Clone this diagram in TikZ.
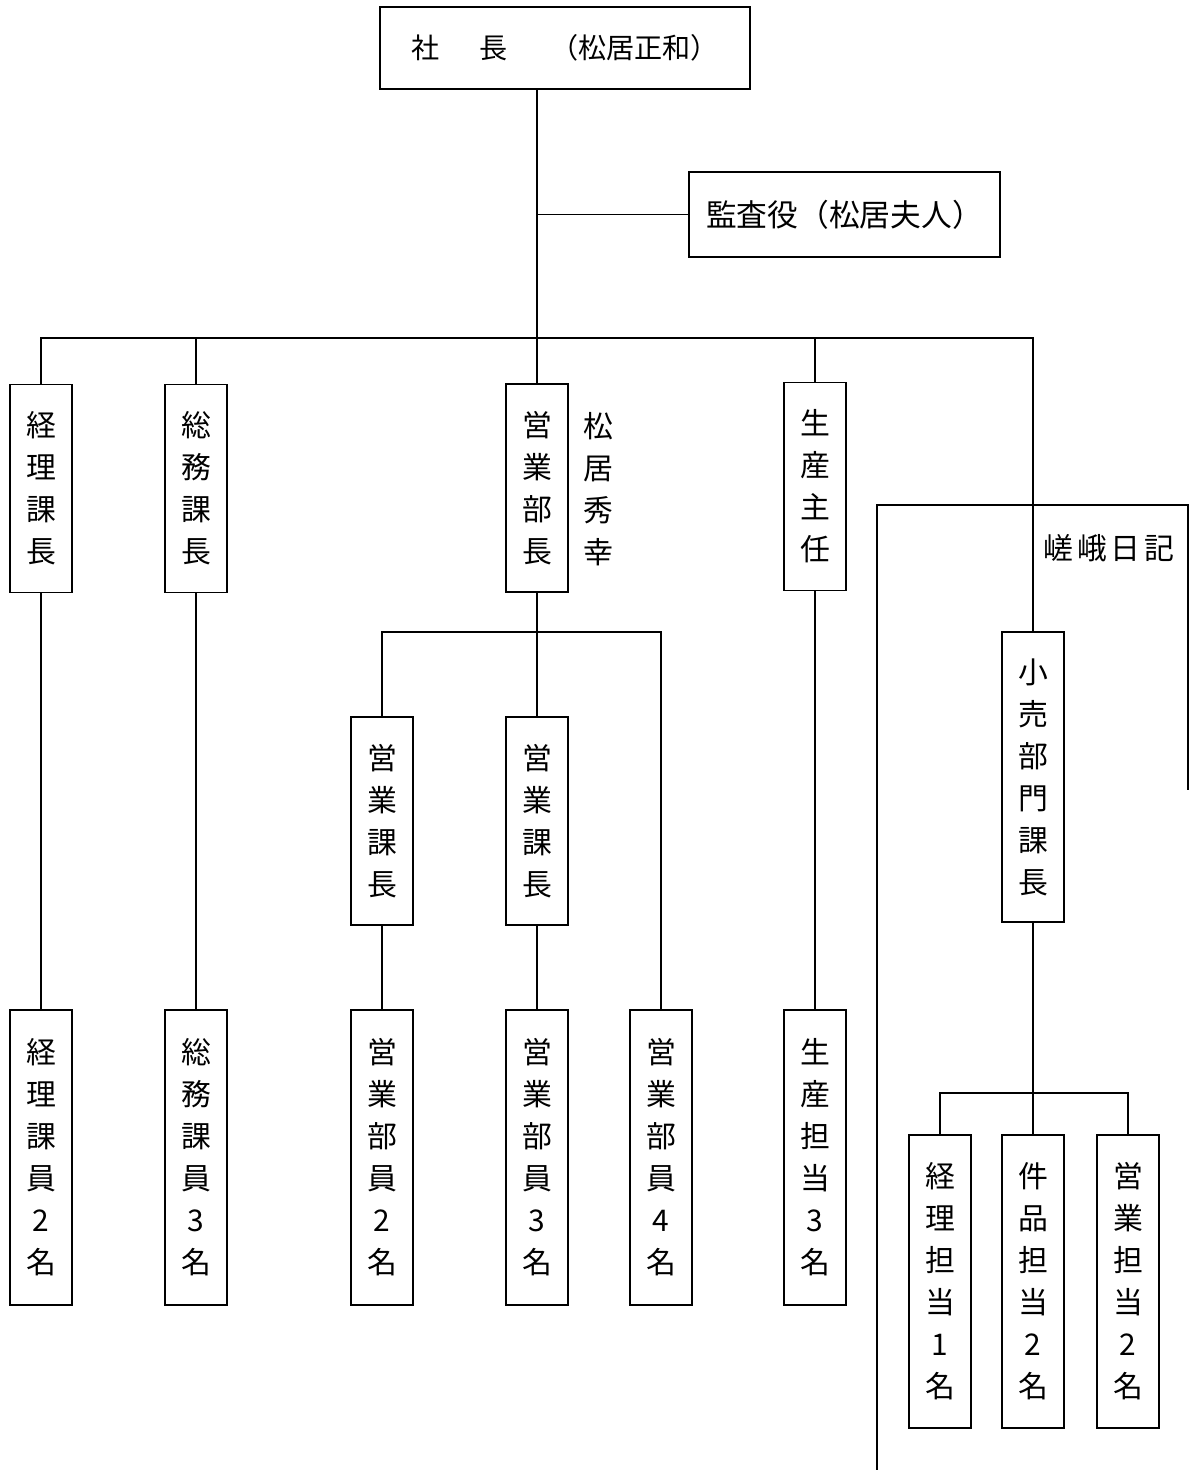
\documentclass[tikz,border=0pt]{standalone}
\usepackage{fontspec}
\newfontfamily\jpfont{Noto Sans CJK JP}

\begin{document}
\begin{tikzpicture}[
  x=0.02cm, y=-0.02cm,
  every node/.style={font=\jpfont},
  hbox/.style={draw, line width=1pt, inner sep=0pt},
  vbox/.style={draw, line width=1pt, minimum width=1.24cm, inner sep=0pt, align=center, font=\jpfont\fontsize{17}{23.9}\selectfont},
  vtext/.style={align=center, inner sep=0pt, font=\jpfont\fontsize{17}{23.9}\selectfont},
  conn/.style={line width=1pt}
]
\useasboundingbox (0,0) rectangle (1189,1470);

% Top
\node[hbox, minimum width=7.4cm, minimum height=1.64cm, font=\jpfont\fontsize{16}{18}\selectfont] (shacho) at (565,48) {社\hspace{1.45em}長\hspace{1.5em}（松居正和）};
\node[hbox, minimum width=6.22cm, minimum height=1.7cm, font=\jpfont\fontsize{17.5}{20}\selectfont] (kansa) at (844.5,214.5) {監査役（松居夫人）};

% Managers
\node[vbox, minimum height=4.16cm] (keirikacho) at (41,488.5) {経\\理\\課\\長};
\node[vbox, minimum height=4.16cm] (somukacho) at (196,488.5) {総\\務\\課\\長};
\node[vbox, minimum height=4.16cm] (eigyobucho) at (537,488) {営\\業\\部\\長};
\node[vtext] (bucho) at (598,489) {松\\居\\秀\\幸};
\node[vbox, minimum height=4.16cm] (seisanshunin) at (815,486.5) {生\\産\\主\\任};

% Sales section
\node[vbox, minimum height=4.16cm] (eigyokacho1) at (382,821) {営\\業\\課\\長};
\node[vbox, minimum height=4.16cm] (eigyokacho2) at (537,821) {営\\業\\課\\長};

% Saga Nikki
\draw[conn] (877,1470) |- (1188,505) -- (1188,790);
\node[font=\jpfont\fontsize{17}{20}\selectfont] (saga) at (1109,548) {嵯\hspace{0.12em}峨\hspace{0.12em}日\hspace{0.12em}記};
\node[vbox, minimum height=5.8cm] (kourikacho) at (1033,777) {小\\売\\部\\門\\課\\長};

% Staff
\node[vbox, minimum height=5.9cm] (keirikain) at (41,1157.5) {経\\理\\課\\員\\2\\名};
\node[vbox, minimum height=5.9cm] (somukain) at (196,1157.5) {総\\務\\課\\員\\3\\名};
\node[vbox, minimum height=5.9cm] (eigyobuin1) at (382,1157.5) {営\\業\\部\\員\\2\\名};
\node[vbox, minimum height=5.9cm] (eigyobuin2) at (537,1157.5) {営\\業\\部\\員\\3\\名};
\node[vbox, minimum height=5.9cm] (eigyobuin3) at (661,1157.5) {営\\業\\部\\員\\4\\名};
\node[vbox, minimum height=5.9cm] (seisantanto) at (815,1157.5) {生\\産\\担\\当\\3\\名};
\node[vbox, minimum height=5.86cm] (keiritanto) at (940,1281.5) {経\\理\\担\\当\\1\\名};
\node[vbox, minimum height=5.86cm] (kenpintanto) at (1033,1281.5) {件\\品\\担\\当\\2\\名};
\node[vbox, minimum height=5.86cm] (eigyotanto) at (1128,1281.5) {営\\業\\担\\当\\2\\名};

% Connections
\coordinate (bus1) at (0,338);
\coordinate (bus2) at (0,632);
\coordinate (bus3) at (0,1093);
\draw[conn] (shacho.south -| eigyobucho.north) -- (eigyobucho.north);
\draw[conn] (kansa.west) -- (kansa.west -| eigyobucho.north);
\draw[conn] (keirikacho.north) |- (kourikacho.north |- bus1) -- (kourikacho.north);
\draw[conn] (somukacho.north) -- (somukacho.north |- bus1);
\draw[conn] (seisanshunin.north) -- (seisanshunin.north |- bus1);

\draw[conn] (eigyobucho.south) -- (eigyokacho2.north);
\draw[conn] (eigyokacho1.north) |- (eigyobuin3.north |- bus2) -- (eigyobuin3.north);

\draw[conn] (keirikacho.south) -- (keirikain.north);
\draw[conn] (somukacho.south) -- (somukain.north);
\draw[conn] (eigyokacho1.south) -- (eigyobuin1.north);
\draw[conn] (eigyokacho2.south) -- (eigyobuin2.north);
\draw[conn] (seisanshunin.south) -- (seisantanto.north);

\draw[conn] (kourikacho.south) -- (kenpintanto.north);
\draw[conn] (keiritanto.north) |- (eigyotanto.north |- bus3) -- (eigyotanto.north);

\end{tikzpicture}
\end{document}
